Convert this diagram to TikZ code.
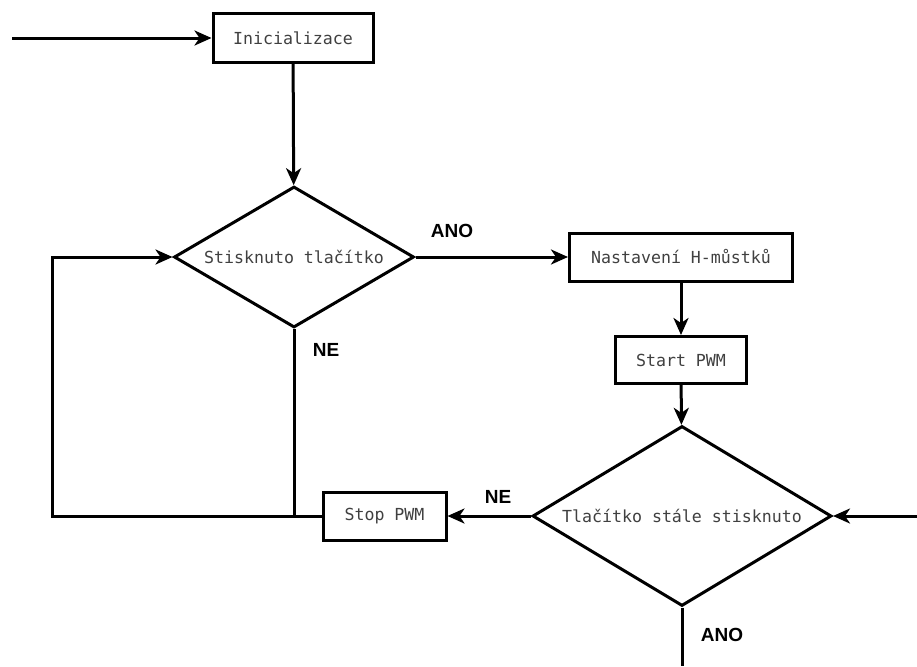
\documentclass[tikz,border=0pt]{standalone}
\usepackage{fontspec}
\setmainfont{Liberation Sans}
\newfontfamily\boxfont{DejaVu Sans Mono}
\usetikzlibrary{arrows.meta,shapes.geometric,positioning,calc}

\begin{document}
\begin{tikzpicture}[x=0.5pt,y=-0.5pt,line width=1.5pt,
 every node/.style={font=\boxfont\fontsize{8.3}{10}\selectfont,text=black!75},
 n/.style={draw,rectangle,minimum height=24pt,inner sep=2pt,fill=white},
 d/.style={draw,diamond,inner sep=0pt,fill=white},
 lab/.style={font=\bfseries\fontsize{9.5}{11}\selectfont,text=black},
 arr/.style={-{Stealth[length=8.5pt,width=7.5pt,inset=2.5pt]}}]
\useasboundingbox (0,0) rectangle (917,666);
\node[n,minimum width=80pt,minimum height=24.5pt] (init) at (293,38) {Inicializace};
\node[d,aspect=1.7,minimum width=120pt,minimum height=70.5pt] (d1) at (294,257) {Stisknuto tlačítko};
\node[n,minimum width=111.5pt] (nast) at (681,257) {Nastavení H-můstků};
\node[n,minimum width=65.5pt,minimum height=23.5pt] (start) at (681,360) {Start PWM};
\node[d,aspect=1.66,minimum width=149.5pt,minimum height=90pt] (d2) at (682,516) {Tlačítko stále stisknuto};
\node[n,minimum width=61.5pt] (stop) at (384.5,516) {Stop PWM};
% free ends
\coordinate (in1) at (12,38);
\coordinate (in2) at (917,516);
\coordinate (out) at (682,666);
\coordinate (lp) at (52,516);
\coordinate (j) at (d1.south |- stop);
% connectors
\draw[arr] (in1) -- (init.west);
\draw[arr] (init) -- (d1);
\draw[arr] (d1.east) -- (nast.west);
\draw[arr] (nast) -- (start);
\draw[arr] (start) -- (d2);
\draw[arr] (in2) -- (d2.east);
\draw[arr] (d2.west) -- (stop.east);
\draw (d2.south) -- (out);
\draw (d1.south) -- (j);
\draw[arr] (stop.west) -- (lp) |- (d1.west);
% labels
\node[lab] (ano1) at (452,231) {ANO};
\node[lab] (ne1) at (326,350) {NE};
\node[lab] (ne2) at (498,497) {NE};
\node[lab] (ano2) at (722,635) {ANO};
\end{tikzpicture}
\end{document}
